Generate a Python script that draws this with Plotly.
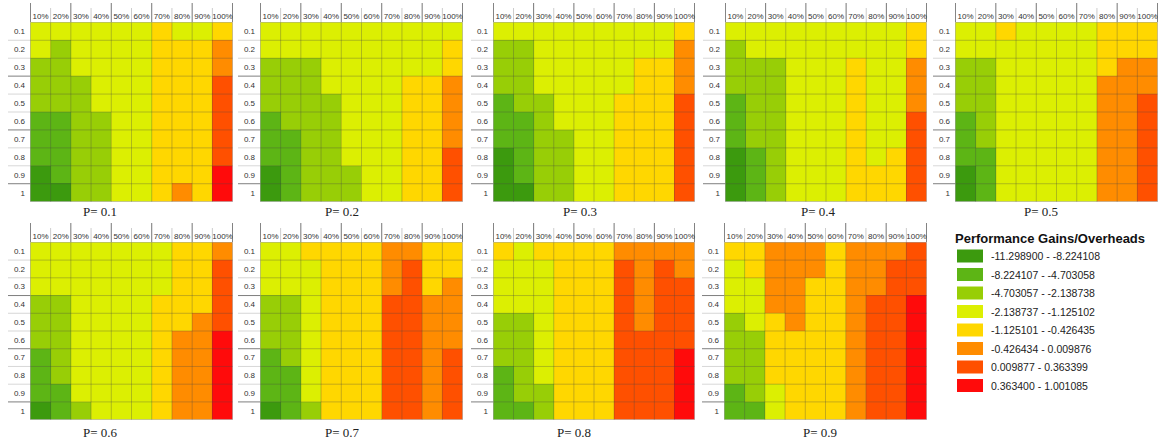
import plotly.graph_objects as go

# ---------------- data ----------------
col_labels = ["10%", "20%", "30%", "40%", "50%", "60%", "70%", "80%", "90%", "100%"]
row_labels = ["0.1", "0.2", "0.3", "0.4", "0.5", "0.6", "0.7", "0.8", "0.9", "1"]
panel_titles = ["P= 0.1", "P= 0.2", "P= 0.3", "P= 0.4", "P= 0.5",
                "P= 0.6", "P= 0.7", "P= 0.8", "P= 0.9"]
legend_title = "Performance Gains/Overheads"
legend_labels = [
    "-11.298900 - -8.224108",
    "-8.224107 - -4.703058",
    "-4.703057 - -2.138738",
    "-2.138737 - -1.125102",
    "-1.125101 - -0.426435",
    "-0.426434 - 0.009876",
    "0.009877 - 0.363399",
    "0.363400 - 1.001085",
]
class_colors = ["#3c9a0e", "#5db515", "#98ce06", "#dcef02",
                "#ffd700", "#ff8c00", "#ff5000", "#ff0b0b"]

# class index (0 = largest gain ... 7 = largest overhead), rows 0.1..1, cols 10%..100%
p01 = [[3, 3, 3, 3, 3, 3, 4, 3, 3, 4],
       [3, 2, 3, 3, 3, 3, 4, 4, 4, 5],
       [2, 2, 3, 3, 3, 3, 4, 4, 4, 5],
       [2, 2, 2, 3, 3, 3, 4, 4, 4, 6],
       [2, 2, 2, 3, 3, 3, 4, 4, 4, 6],
       [1, 1, 2, 2, 3, 3, 4, 4, 4, 6],
       [1, 1, 2, 2, 3, 3, 4, 4, 4, 6],
       [1, 1, 2, 2, 3, 3, 4, 4, 4, 6],
       [0, 1, 2, 2, 3, 3, 4, 4, 4, 7],
       [0, 0, 2, 2, 3, 3, 4, 5, 4, 7]]
p02 = [[3, 3, 3, 3, 3, 3, 3, 3, 3, 3],
       [3, 3, 3, 3, 3, 3, 3, 3, 3, 4],
       [2, 2, 2, 3, 3, 3, 3, 3, 3, 4],
       [2, 2, 2, 3, 3, 3, 3, 4, 4, 5],
       [2, 2, 2, 2, 3, 3, 3, 4, 4, 5],
       [1, 2, 2, 2, 3, 3, 3, 4, 4, 5],
       [1, 1, 2, 2, 3, 3, 3, 4, 4, 5],
       [1, 1, 2, 2, 3, 3, 3, 4, 4, 6],
       [0, 1, 2, 2, 2, 3, 3, 4, 4, 6],
       [0, 1, 2, 2, 2, 3, 3, 4, 4, 6]]
p03 = [[3, 3, 3, 3, 3, 3, 3, 3, 3, 4],
       [2, 2, 3, 3, 3, 3, 3, 3, 3, 5],
       [2, 2, 3, 3, 3, 3, 3, 4, 4, 5],
       [2, 2, 3, 3, 3, 3, 3, 4, 4, 5],
       [1, 2, 2, 3, 3, 3, 4, 4, 4, 6],
       [1, 1, 2, 3, 3, 3, 4, 4, 4, 6],
       [1, 1, 2, 2, 3, 3, 4, 4, 4, 6],
       [0, 1, 2, 2, 3, 3, 4, 4, 4, 6],
       [0, 1, 2, 2, 3, 3, 4, 4, 4, 6],
       [0, 0, 2, 2, 3, 3, 4, 4, 4, 6]]
p04 = [[3, 3, 3, 3, 3, 3, 3, 3, 3, 4],
       [2, 3, 3, 3, 3, 3, 3, 3, 3, 4],
       [2, 2, 2, 3, 3, 3, 4, 3, 3, 5],
       [2, 2, 2, 3, 3, 3, 4, 3, 3, 5],
       [1, 2, 2, 3, 3, 3, 4, 3, 3, 5],
       [1, 2, 2, 3, 3, 3, 4, 3, 3, 6],
       [1, 2, 2, 3, 3, 3, 4, 3, 3, 6],
       [0, 1, 2, 3, 3, 3, 4, 3, 4, 6],
       [0, 1, 2, 3, 3, 3, 4, 4, 4, 6],
       [0, 1, 2, 3, 3, 3, 4, 4, 4, 6]]
p05 = [[3, 3, 4, 3, 3, 3, 3, 4, 4, 4],
       [3, 3, 3, 3, 3, 3, 3, 4, 4, 4],
       [2, 2, 3, 3, 3, 3, 3, 4, 5, 5],
       [2, 2, 3, 3, 3, 3, 3, 5, 5, 5],
       [2, 2, 3, 3, 3, 3, 3, 5, 5, 6],
       [1, 2, 3, 3, 3, 3, 3, 5, 5, 6],
       [1, 2, 3, 3, 3, 3, 3, 5, 5, 6],
       [1, 1, 3, 3, 3, 3, 3, 5, 5, 6],
       [0, 1, 3, 3, 3, 3, 3, 5, 5, 6],
       [0, 1, 3, 3, 3, 3, 3, 5, 5, 6]]
p06 = [[3, 3, 3, 3, 3, 3, 3, 4, 4, 5],
       [3, 3, 3, 3, 3, 3, 3, 4, 4, 6],
       [3, 3, 3, 3, 3, 3, 3, 4, 4, 6],
       [2, 2, 3, 3, 3, 3, 4, 4, 4, 6],
       [2, 2, 3, 3, 3, 3, 4, 4, 5, 6],
       [2, 2, 3, 3, 3, 3, 4, 5, 5, 7],
       [1, 2, 3, 3, 3, 3, 4, 5, 5, 7],
       [1, 2, 3, 3, 3, 3, 4, 5, 5, 7],
       [1, 1, 3, 3, 3, 3, 4, 5, 5, 7],
       [0, 1, 2, 3, 3, 3, 4, 5, 5, 7]]
p07 = [[3, 3, 4, 4, 4, 4, 5, 5, 4, 4],
       [3, 3, 3, 4, 4, 4, 5, 6, 4, 4],
       [3, 3, 3, 4, 4, 4, 5, 6, 4, 5],
       [2, 2, 3, 4, 4, 4, 6, 6, 5, 5],
       [2, 2, 3, 4, 4, 4, 6, 6, 5, 5],
       [2, 2, 3, 4, 4, 4, 6, 6, 5, 5],
       [1, 2, 3, 4, 4, 4, 6, 6, 5, 6],
       [1, 1, 3, 4, 4, 4, 6, 6, 5, 6],
       [1, 1, 3, 4, 4, 4, 6, 6, 5, 6],
       [0, 1, 2, 4, 4, 4, 6, 6, 5, 6]]
p08 = [[4, 3, 4, 4, 4, 4, 5, 5, 5, 5],
       [3, 3, 3, 4, 4, 4, 6, 5, 6, 5],
       [3, 3, 3, 4, 4, 4, 6, 5, 6, 6],
       [3, 3, 3, 4, 4, 4, 6, 5, 6, 6],
       [2, 2, 3, 4, 4, 4, 6, 5, 6, 6],
       [2, 2, 3, 4, 4, 4, 6, 6, 6, 6],
       [2, 2, 3, 4, 4, 4, 6, 6, 6, 7],
       [1, 2, 3, 4, 4, 4, 6, 6, 6, 7],
       [1, 2, 2, 4, 4, 4, 6, 6, 6, 7],
       [1, 1, 2, 4, 4, 4, 6, 6, 6, 7]]
p09 = [[4, 4, 5, 5, 5, 4, 5, 5, 5, 6],
       [3, 4, 5, 5, 5, 4, 5, 5, 6, 6],
       [3, 3, 5, 5, 4, 4, 5, 5, 6, 6],
       [3, 3, 5, 5, 4, 4, 5, 6, 6, 7],
       [2, 3, 4, 5, 4, 4, 5, 6, 6, 7],
       [2, 2, 4, 4, 4, 4, 5, 6, 6, 7],
       [2, 2, 4, 4, 4, 4, 5, 6, 6, 7],
       [2, 2, 4, 4, 4, 4, 5, 6, 6, 7],
       [1, 2, 3, 4, 4, 4, 5, 6, 6, 7],
       [1, 1, 3, 4, 4, 4, 5, 6, 6, 7]]
panels = [p01, p02, p03, p04, p05, p06, p07, p08, p09]

# ---------------- layout geometry (pixels) ----------------
W, H = 1160, 441
px_x = [(30, 233), (260, 463), (493, 695), (725, 927), (955, 1158),
        (30, 233), (260, 463), (493, 695), (724, 927)]
px_y = [(22, 202)] * 5 + [(242, 420)] * 4
title_cx = [100, 342, 580, 818, 1041, 100, 342, 574, 820]
title_cy = [212] * 5 + [432] * 4

n_cls = len(class_colors)
colorscale = []
for i, c in enumerate(class_colors):
    colorscale.append([i / n_cls, c])
    colorscale.append([(i + 1) / n_cls, c])

fig = go.Figure()
layout = dict(width=W, height=H, margin=dict(l=0, r=0, t=0, b=0),
              paper_bgcolor="white", plot_bgcolor="white", showlegend=False)
shapes = []
annotations = []
gridc = "rgba(70,70,70,0.45)"
tickfont = dict(family="Liberation Sans, Arial, sans-serif", size=8, color="#333")

for i, z in enumerate(panels):
    n = "" if i == 0 else str(i + 1)
    xa, ya = "x" + n, "y" + n
    fig.add_trace(go.Heatmap(
        z=z, x=col_labels, y=row_labels, xaxis=xa, yaxis=ya,
        colorscale=colorscale, zmin=-0.5, zmax=n_cls - 0.5,
        showscale=False, hoverinfo="x+y+z"))
    x0, x1 = px_x[i]
    y0, y1 = px_y[i]
    layout["xaxis" + n] = dict(
        domain=[x0 / W, x1 / W], anchor=ya, side="top", type="category",
        showgrid=False, zeroline=False, ticks="", showline=False,
        tickfont=tickfont, tickangle=0, fixedrange=True)
    layout["yaxis" + n] = dict(
        domain=[1 - y1 / H, 1 - y0 / H], anchor=xa, type="category",
        autorange="reversed", showgrid=False, zeroline=False, ticks="",
        showline=False, tickfont=tickfont, ticklabelstandoff=4, fixedrange=True)
    xr, yr = xa, ya
    nc, nr = len(col_labels), len(row_labels)
    # in-cell grid lines
    for k in range(nc + 1):
        shapes.append(dict(type="line", xref=xr, yref=yr, x0=k - 0.5, x1=k - 0.5,
                           y0=-0.5, y1=nr - 0.5, line=dict(color=gridc, width=0.7)))
    for k in range(nr + 1):
        shapes.append(dict(type="line", xref=xr, yref=yr, x0=-0.5, x1=nc - 0.5,
                           y0=k - 0.5, y1=k - 0.5, line=dict(color=gridc, width=0.7)))
    # header separators
    for k in range(nc + 1):
        top = (y0 - 19) if k % 2 == 0 else (y0 - 14)
        shapes.append(dict(type="line", xref=xr, yref="paper", x0=k - 0.5, x1=k - 0.5,
                           y0=1 - y0 / H, y1=1 - top / H,
                           line=dict(color="rgba(40,40,40,0.8)" if k % 2 == 0 else "rgba(150,150,150,0.6)",
                                     width=0.8)))
    # row label lines
    for k in range(1, nr):
        shapes.append(dict(type="line", xref="paper", yref=yr,
                           x0=(x0 - 22) / W, x1=x0 / W, y0=k - 0.5, y1=k - 0.5,
                           line=dict(color="rgba(40,40,40,0.75)" if k % 3 == 0 else "rgba(170,170,170,0.6)",
                                     width=0.8)))
    annotations.append(dict(
        text=panel_titles[i], xref="paper", yref="paper",
        x=title_cx[i] / W, y=1 - title_cy[i] / H, xanchor="center", yanchor="middle",
        showarrow=False,
        font=dict(family="Liberation Serif, Times New Roman, serif", size=13, color="#222")))

# ---------------- legend ----------------
annotations.append(dict(
    text="<b>" + legend_title + "</b>", xref="paper", yref="paper",
    x=953 / W, y=1 - 238 / H, xanchor="left", yanchor="middle", showarrow=False,
    font=dict(family="Liberation Sans, Arial, sans-serif", size=13, color="#111")))
for i, (lab, c) in enumerate(zip(legend_labels, class_colors)):
    cy = 256 + i * 18.5
    shapes.append(dict(type="rect", xref="paper", yref="paper",
                       x0=957 / W, x1=983 / W, y0=1 - (cy + 6.5) / H, y1=1 - (cy - 6.5) / H,
                       fillcolor=c, line=dict(width=0)))
    annotations.append(dict(
        text=lab, xref="paper", yref="paper", x=989 / W, y=1 - cy / H,
        xanchor="left", yanchor="middle", showarrow=False,
        font=dict(family="Liberation Sans, Arial, sans-serif", size=10.5, color="#222")))

layout["shapes"] = shapes
layout["annotations"] = annotations
fig.update_layout(**layout)
fig.write_html("out.html")
